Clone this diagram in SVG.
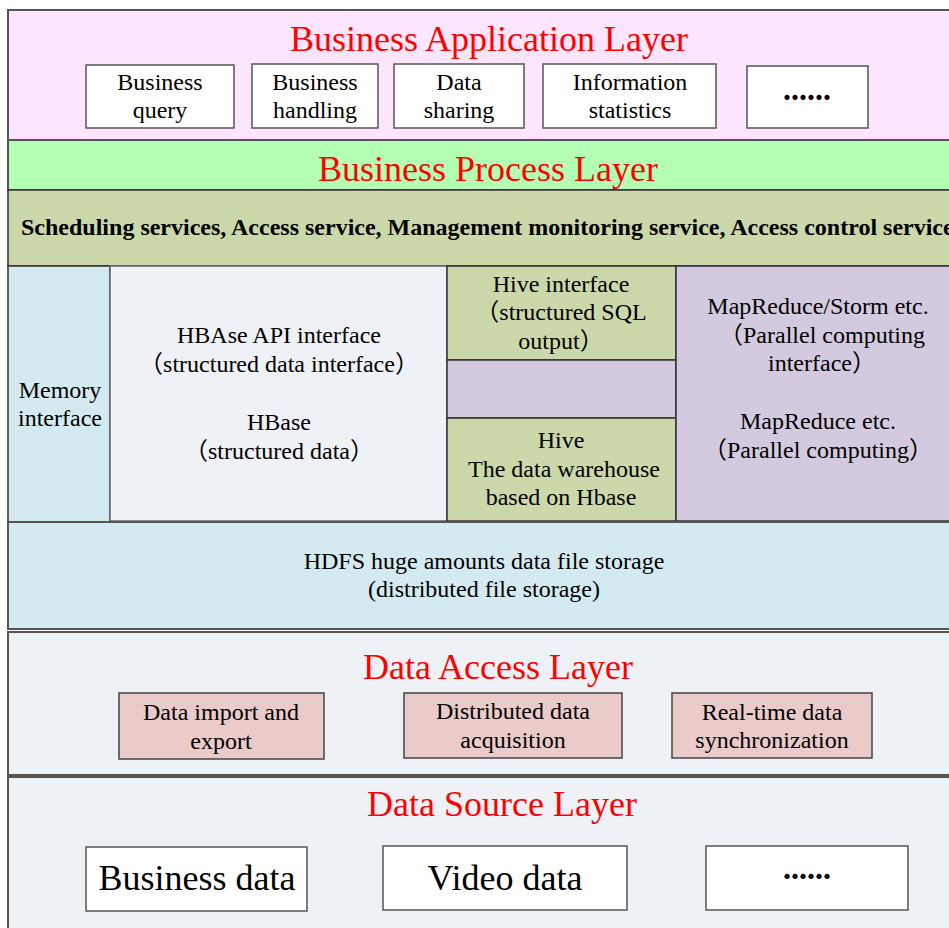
<svg xmlns="http://www.w3.org/2000/svg" width="949" height="928" viewBox="0 0 949 928">
<style>
text{font-family:"Liberation Serif","Noto Sans CJK SC",serif;fill:#000;text-anchor:middle}
.title{font-size:36px;fill:#ff0000}
.t{font-size:24px}
.big{font-size:36px}
.dots{font-size:32px;font-weight:bold}
.layer{stroke:#555;stroke-width:2}
.box{fill:#fff;stroke:#555;stroke-width:1.5}
.cell{stroke:#333;stroke-width:1.5}
.acc{fill:#eacbca;stroke:#444;stroke-width:1.5}
</style>
<rect width="949" height="928" fill="#fff"/>
<g id="app-layer">
<rect class="layer" x="8" y="10" width="960" height="130" fill="#fde5fd"/>
<text class="title" x="489" y="51">Business Application Layer</text>
</g>
<g id="business-query"><rect class="box" x="86" y="65" width="148" height="63"/><text class="t" x="160" y="90">Business</text><text class="t" x="160" y="118">query</text></g>
<g id="business-handling"><rect class="box" x="252" y="64" width="126" height="64"/><text class="t" x="315" y="90">Business</text><text class="t" x="315" y="118">handling</text></g>
<g id="data-sharing"><rect class="box" x="394" y="64" width="130" height="64"/><text class="t" x="459" y="90">Data</text><text class="t" x="459" y="118">sharing</text></g>
<g id="information-statistics"><rect class="box" x="543" y="64" width="173" height="64"/><text class="t" x="630" y="90">Information</text><text class="t" x="630" y="118">statistics</text></g>
<g id="app-more"><rect class="box" x="747" y="66" width="121" height="62"/><text class="dots" x="807" y="100">......</text></g>

<g id="process-layer">
<rect class="layer" x="8" y="140" width="960" height="50" fill="#b3ffb3"/>
<text class="title" x="488" y="181">Business Process Layer</text>
</g>
<g id="services">
<rect class="cell" x="8" y="190" width="960" height="76" fill="#cbd9aa"/>
<text x="21" y="235" style="font-size:24px;font-weight:bold;text-anchor:start">Scheduling services, Access service, Management monitoring service, Access control service</text>
</g>
<g id="memory-interface">
<rect class="cell" x="8" y="266" width="102" height="256" fill="#d2eaf0"/>
<text class="t" x="60" y="398">Memory</text><text class="t" x="60" y="426">interface</text>
</g>
<g id="hbase">
<rect x="110" y="266" width="337" height="255" fill="#eef1f6" stroke="#666" stroke-width="1.5"/>
<text class="t" x="279" y="343">HBAse API interface</text>
<text class="t" x="279" y="372">（structured data interface）</text>
<text class="t" x="279" y="430">HBase</text>
<text class="t" x="279" y="459">（structured data）</text>
</g>
<g id="hive-interface">
<rect class="cell" x="447" y="266" width="229" height="94" fill="#cbd9aa"/>
<text class="t" x="561" y="292">Hive interface</text>
<text class="t" x="561" y="320">（structured SQL</text>
<text class="t" x="561" y="349">output）</text>
</g>
<g id="hive-gap"><rect class="cell" x="447" y="360" width="229" height="58" fill="#d3cadf"/></g>
<g id="hive">
<rect class="cell" x="447" y="418" width="229" height="103" fill="#cbd9aa"/>
<text class="t" x="561" y="448">Hive</text>
<text class="t" x="564" y="477">The data warehouse</text>
<text class="t" x="561" y="505">based on Hbase</text>
</g>
<g id="mapreduce">
<rect class="cell" x="676" y="266" width="290" height="255" fill="#d3cadf"/>
<text class="t" x="818" y="314">MapReduce/Storm etc.</text>
<text class="t" x="822" y="343">（Parallel computing</text>
<text class="t" x="822" y="371">interface）</text>
<text class="t" x="818" y="429">MapReduce etc.</text>
<text class="t" x="818" y="458">（Parallel computing）</text>
</g>
<g id="hdfs">
<rect class="layer" x="8" y="522" width="960" height="107" fill="#d2eaf0"/>
<text class="t" x="484" y="569">HDFS huge amounts data file storage</text>
<text class="t" x="484" y="597">(distributed file storage)</text>
</g>

<g id="access-layer">
<rect class="layer" x="8" y="632" width="960" height="143" fill="#eef1f6"/>
<text class="title" x="498" y="679">Data Access Layer</text>
</g>
<g id="data-import"><rect class="acc" x="119" y="693" width="205" height="66"/><text class="t" x="221" y="720">Data import and</text><text class="t" x="221" y="749">export</text></g>
<g id="distributed-acquisition"><rect class="acc" x="404" y="693" width="218" height="65"/><text class="t" x="513" y="719">Distributed data</text><text class="t" x="513" y="748">acquisition</text></g>
<g id="realtime-sync"><rect class="acc" x="672" y="693" width="200" height="65"/><text class="t" x="772" y="720">Real-time data</text><text class="t" x="772" y="748">synchronization</text></g>

<g id="source-layer">
<rect class="layer" x="8" y="777" width="960" height="160" fill="#eef1f6"/>
<text class="title" x="502" y="816">Data Source Layer</text>
</g>
<g id="business-data"><rect class="box" x="86" y="847" width="221" height="64"/><text class="big" x="197" y="890">Business data</text></g>
<g id="video-data"><rect class="box" x="383" y="846" width="244" height="64"/><text class="big" x="505" y="890">Video data</text></g>
<g id="source-more"><rect class="box" x="706" y="846" width="202" height="64"/><text class="dots" x="807" y="879">......</text></g>
<g id="connectors"></g>
</svg>
